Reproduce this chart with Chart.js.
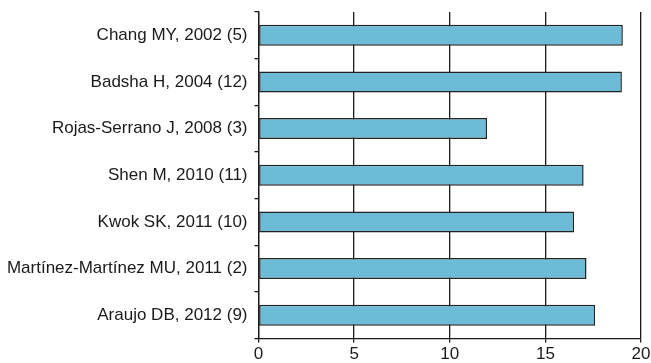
<!DOCTYPE html>
<html>
<head>
<meta charset="utf-8">
<script src="https://cdn.jsdelivr.net/npm/chart.js@4/dist/chart.umd.min.js"></script>
<style>
  html, body { margin: 0; padding: 0; background: #fff; }
  #wrap { width: 651px; height: 363px; }
</style>
</head>
<body>
<div id="wrap"><canvas id="c" width="651" height="363"></canvas></div>
<script>
// Studies (reference number in brackets)
const studies = [
  'Chang MY, 2002 (5)',
  'Badsha H, 2004 (12)',
  'Rojas-Serrano J, 2008 (3)',
  'Shen M, 2010 (11)',
  'Kwok SK, 2011 (10)',
  'Martínez-Martínez MU, 2011 (2)',
  'Araujo DB, 2012 (9)'
];
// Value per study
const values = [19.05, 19.0, 11.95, 17.0, 16.5, 17.15, 17.6];
// Horizontal axis ticks
const xTicks = [0, 5, 10, 15, 20];

const ink = '#1a1a1a';
const font = { family: '"Liberation Sans", Arial, Helvetica, sans-serif', size: 17 };

new Chart(document.getElementById('c'), {
  type: 'bar',
  data: {
    labels: studies,
    datasets: [{
      data: values,
      backgroundColor: '#6cbbd7',
      borderColor: '#222',
      borderWidth: 1.5,
      borderSkipped: false,
      categoryPercentage: 1,
      barPercentage: 0.45
    }]
  },
  options: {
    indexAxis: 'y',
    responsive: false,
    animation: false,
    layout: { padding: { top: 12, right: 10, left: 0, bottom: 0 } },
    plugins: { legend: { display: false }, tooltip: { enabled: false } },
    scales: {
      x: {
        min: xTicks[0],
        max: xTicks[xTicks.length - 1],
        afterBuildTicks: s => { s.ticks = xTicks.map(v => ({ value: v })); },
        afterFit: s => { s.height = 24.5; s.paddingLeft = 0; s.paddingRight = 0; },
        ticks: { color: ink, font: font, padding: 2, maxRotation: 0 },
        grid: { color: ink, lineWidth: 1.3, tickLength: 4, drawTicks: true },
        border: { display: true, color: ink, width: 1.3 }
      },
      y: {
        afterFit: s => { s.width = 258.5; s.paddingTop = 0; s.paddingBottom = 0; },
        ticks: { color: ink, font: font, padding: 7 },
        grid: { offset: true, drawOnChartArea: false, color: ink, lineWidth: 1.3, tickLength: 4 },
        border: { display: true, color: ink, width: 1.3 }
      }
    }
  }
});
</script>
</body>
</html>
